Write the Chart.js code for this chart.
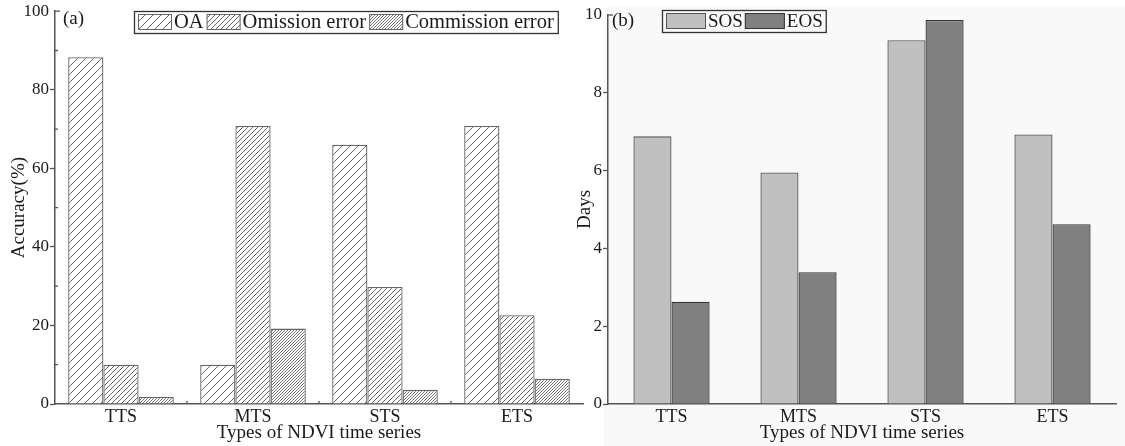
<!DOCTYPE html>
<html>
<head>
<meta charset="utf-8">
<script src="https://cdn.jsdelivr.net/npm/chart.js@4.4.0/dist/chart.umd.min.js"></script>
<style>
  html, body { margin: 0; padding: 0; background: #fff; }
  #wrap { position: relative; width: 1125px; height: 446px; overflow: hidden; }
  .box { position: absolute; top: 0; height: 446px; }
  #boxA { left: 0; width: 590px; }
  #boxB { left: 570px; width: 555px; }
</style>
</head>
<body>
<div id="wrap">
  <div class="box" id="boxB"><canvas id="chartB"></canvas></div>
  <div class="box" id="boxA"><canvas id="chartA"></canvas></div>
</div>
<script>
// data
const types = ["TTS", "MTS", "STS", "ETS"];
const oaValues = [88.3, 10.0, 66.0, 70.8];
const omissionValues = [10.0, 70.8, 29.8, 22.6];
const commissionValues = [1.8, 19.2, 3.6, 6.4];
const sosValues = [6.88, 5.95, 9.35, 6.93];
const eosValues = [2.63, 3.39, 9.87, 4.62];

const serif = "'Liberation Serif', 'Times New Roman', serif";
const axisColor = "#555";
const textColor = "#1a1a1a";

// diagonal hatch fill, step = line spacing in px
function hatch(step, width) {
  const c = document.createElement("canvas");
  c.width = step;
  c.height = step;
  const g = c.getContext("2d");
  g.fillStyle = "#fff";
  g.fillRect(0, 0, step, step);
  g.strokeStyle = "#666";
  g.lineWidth = width;
  g.beginPath();
  for (const k of [-step, 0, step]) {
    g.moveTo(k, step);
    g.lineTo(k + step, 0);
  }
  g.stroke();
  return g.createPattern(c, "repeat");
}

// boxed legend + panel tag
function makeLegend(cfg) {
  return {
    id: "boxLegend",
    afterDraw(chart) {
      const ctx = chart.ctx;
      ctx.save();
      ctx.font = cfg.size + "px " + serif;
      ctx.textBaseline = "middle";
      let x = cfg.x + 4;
      chart.data.datasets.forEach(ds => {
        ctx.fillStyle = ds.backgroundColor;
        ctx.fillRect(x, cfg.y + 3, cfg.sw, cfg.h - 6);
        ctx.strokeStyle = ds.borderColor;
        ctx.lineWidth = 1;
        ctx.strokeRect(x + 0.5, cfg.y + 3.5, cfg.sw - 1, cfg.h - 7);
        x += cfg.sw + 2;
        ctx.fillStyle = textColor;
        ctx.fillText(ds.label, x, cfg.y + cfg.h / 2 + 1);
        x += ctx.measureText(ds.label).width + cfg.gap;
      });
      ctx.strokeStyle = "#333";
      ctx.lineWidth = 1.3;
      ctx.strokeRect(cfg.x + 0.5, cfg.y + 0.5, x - cfg.x + 1, cfg.h);
      ctx.font = "19px " + serif;
      ctx.fillStyle = textColor;
      ctx.fillText(cfg.tag, cfg.tagX, cfg.tagY);
      ctx.restore();
    }
  };
}

// inward top tick, minor ticks and category separators
function makeMarks(minors, separators) {
  return {
    id: "axisMarks",
    afterDraw(chart) {
      const ctx = chart.ctx;
      const y = chart.scales.y;
      const x = chart.scales.x;
      const left = chart.chartArea.left;
      const bottom = chart.chartArea.bottom;
      ctx.save();
      ctx.strokeStyle = axisColor;
      ctx.lineWidth = 1.3;
      ctx.beginPath();
      const top = y.getPixelForValue(y.max);
      ctx.moveTo(left, top);
      ctx.lineTo(left + 5, top);
      minors.forEach(v => {
        const py = y.getPixelForValue(v);
        ctx.moveTo(left, py);
        ctx.lineTo(left + 3, py);
      });
      if (separators) {
        for (let i = 0; i < types.length - 1; i++) {
          const px = (x.getPixelForValue(i) + x.getPixelForValue(i + 1)) / 2;
          ctx.moveTo(px, bottom);
          ctx.lineTo(px, bottom - 3);
        }
      }
      ctx.stroke();
      ctx.restore();
    }
  };
}

const panelBg = {
  id: "panelBg",
  beforeDraw(chart) {
    const ctx = chart.ctx;
    ctx.save();
    ctx.fillStyle = "#f9f9f9";
    ctx.fillRect(34, 7, chart.width - 34, chart.height - 7);
    ctx.restore();
  }
};

function yAxis(max, step, width, title, titlePad) {
  return {
    min: 0,
    max: max,
    afterFit: s => { s.width = width; },
    border: { display: true, color: axisColor, width: 1.5 },
    grid: {
      drawOnChartArea: false,
      tickLength: 5,
      tickWidth: 1.3,
      tickColor: c => (c.tick && c.tick.value === max ? "rgba(0,0,0,0)" : axisColor)
    },
    ticks: {
      stepSize: step,
      padding: 1,
      color: textColor,
      font: { family: serif, size: 17 }
    },
    title: {
      display: true,
      text: title,
      color: textColor,
      font: { family: serif, size: 19 },
      padding: { top: titlePad, bottom: 0 }
    }
  };
}

function xAxis() {
  return {
    afterFit: s => { s.height = 42; },
    border: { display: true, color: axisColor, width: 1.5 },
    grid: { display: false, drawTicks: false },
    ticks: {
      padding: 2,
      color: textColor,
      font: { family: serif, size: 18 }
    },
    title: {
      display: true,
      text: "Types of NDVI time series",
      color: textColor,
      font: { family: serif, size: 19 },
      padding: { top: 0, bottom: 2 }
    }
  };
}

new Chart(document.getElementById("chartA"), {
  type: "bar",
  data: {
    labels: types,
    datasets: [
      { label: "OA", data: oaValues, backgroundColor: hatch(8, 1) },
      { label: "Omission error", data: omissionValues, backgroundColor: hatch(5, 1) },
      { label: "Commission error", data: commissionValues, backgroundColor: hatch(3, 0.9) }
    ].map(d => Object.assign(d, {
      borderColor: "#666",
      borderWidth: 1.3,
      categoryPercentage: 0.8,
      barPercentage: 1
    }))
  },
  options: {
    responsive: true,
    maintainAspectRatio: false,
    animation: false,
    layout: { padding: { top: 11, right: 7, left: 0, bottom: 0 } },
    scales: {
      x: xAxis(),
      y: yAxis(100, 20, 55, "Accuracy(%)", 8)
    },
    plugins: { legend: { display: false }, tooltip: { enabled: false } }
  },
  plugins: [
    makeLegend({ x: 134, y: 11, h: 22, sw: 34, size: 20.5, gap: 3, tag: "(a)", tagX: 63, tagY: 19 }),
    makeMarks([10, 30, 50, 70, 90], true)
  ]
});

new Chart(document.getElementById("chartB"), {
  type: "bar",
  data: {
    labels: types,
    datasets: [
      { label: "SOS", data: sosValues, backgroundColor: "#c0c0c0", borderColor: "#555" },
      { label: "EOS", data: eosValues, backgroundColor: "#808080", borderColor: "#333" }
    ].map(d => Object.assign(d, {
      borderWidth: 1.3,
      categoryPercentage: 0.6,
      barPercentage: 1
    }))
  },
  options: {
    responsive: true,
    maintainAspectRatio: false,
    animation: false,
    layout: { padding: { top: 15, right: 9, left: 0, bottom: 0 } },
    scales: {
      x: xAxis(),
      y: yAxis(10, 2, 38, "Days", 4)
    },
    plugins: { legend: { display: false }, tooltip: { enabled: false } }
  },
  plugins: [
    panelBg,
    makeLegend({ x: 92, y: 10, h: 22, sw: 40, size: 19, gap: 2, tag: "(b)", tagX: 42, tagY: 21 }),
    makeMarks([], false)
  ]
});
</script>
</body>
</html>
